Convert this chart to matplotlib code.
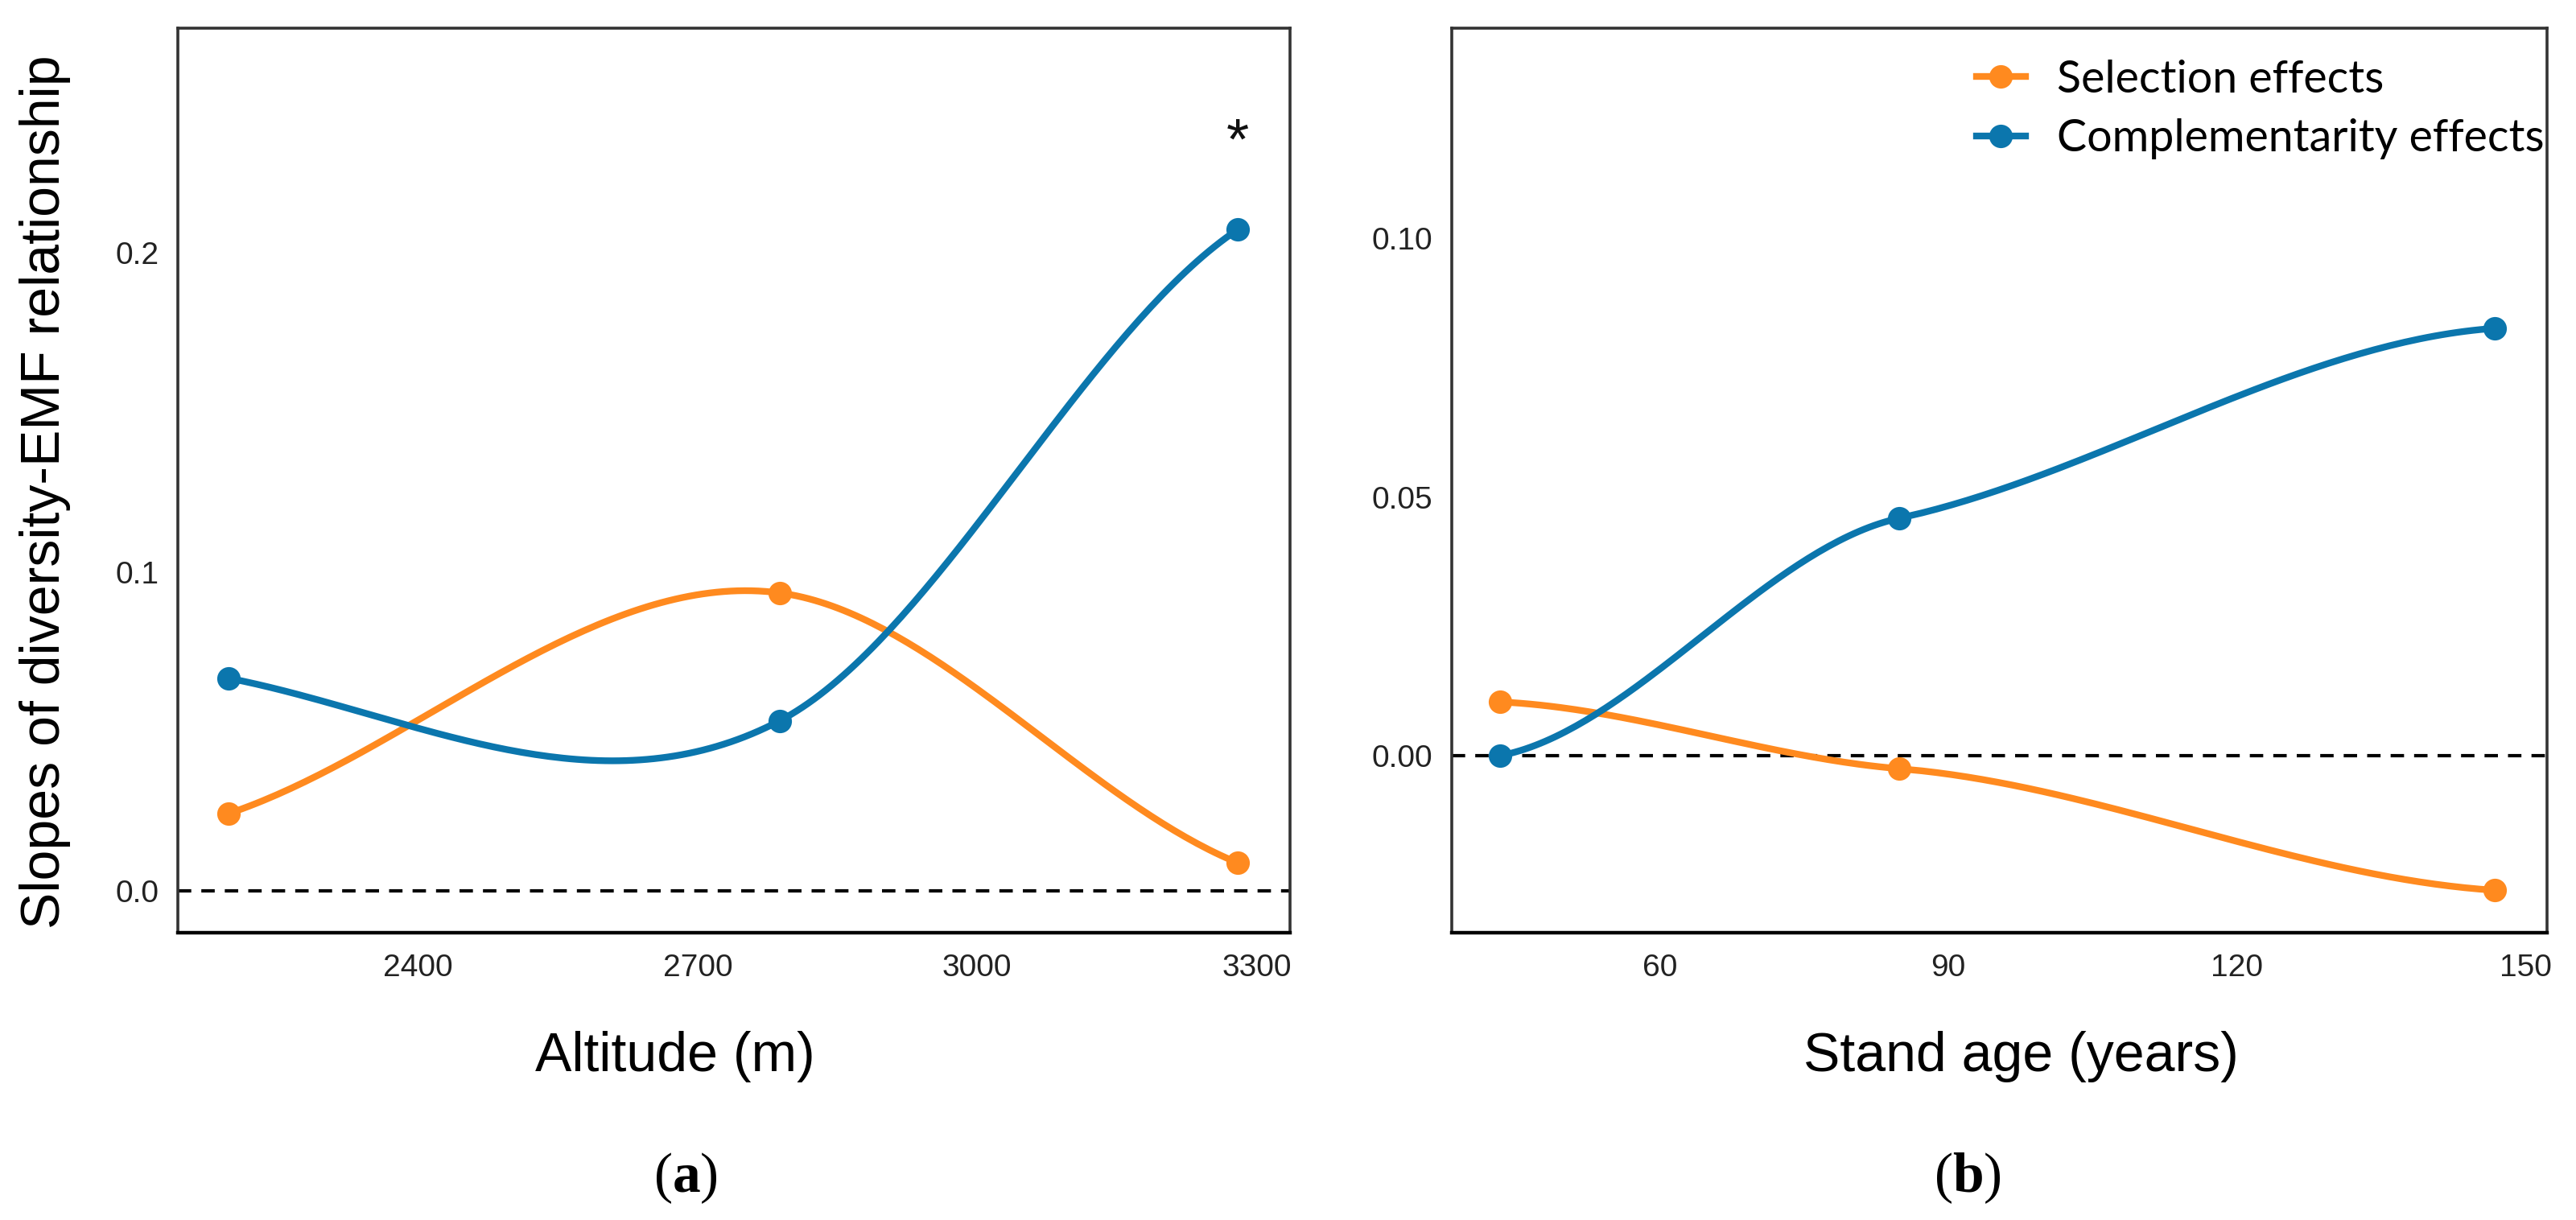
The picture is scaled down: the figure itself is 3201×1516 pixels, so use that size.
import matplotlib
matplotlib.use("Agg")
import matplotlib.pyplot as plt
import numpy as np
from matplotlib.lines import Line2D

# values
altitude = [2196, 2788, 3280]
sel_alt = [0.0242, 0.0934, 0.0088]
comp_alt = [0.0667, 0.0533, 0.2073]

stand_age = [43.4, 84.9, 146.8]
sel_age = [0.0104, -0.0025, -0.0260]
comp_age = [0.0000, 0.0459, 0.0826]

alt_ticks = [2400, 2700, 3000, 3300]
alt_yticks = [0.0, 0.1, 0.2]
age_ticks = [60, 90, 120, 150]
age_yticks = [0.00, 0.05, 0.10]

series_names = ["Selection effects", "Complementarity effects"]
ORANGE = "#FF8A1F"
BLUE = "#0B76AD"

plt.rcParams["font.family"] = ["Liberation Sans", "DejaVu Sans"]
plt.rcParams["mathtext.fontset"] = "custom"
plt.rcParams["mathtext.rm"] = "Liberation Serif"
plt.rcParams["mathtext.bf"] = "Liberation Serif:bold"


def smooth(x, y, k_int=1.0, k_end=0.5, steps=80):
    # hermite curve through the points, tangents from a natural spline, damped by k_*
    x = np.asarray(x, float)
    y = np.asarray(y, float)
    n = len(x)
    h = np.diff(x)
    d = np.diff(y) / h
    A = np.zeros((n, n))
    b = np.zeros(n)
    A[0, :2] = [2, 1]
    b[0] = 3 * d[0]
    for i in range(1, n - 1):
        A[i, i - 1:i + 2] = [h[i], 2 * (h[i - 1] + h[i]), h[i - 1]]
        b[i] = 3 * (h[i] * d[i - 1] + h[i - 1] * d[i])
    A[-1, -2:] = [1, 2]
    b[-1] = 3 * d[-1]
    m = np.linalg.solve(A, b)
    m[1:-1] *= k_int
    m[[0, -1]] *= k_end

    u = np.linspace(0, 1, steps)
    h00 = 2 * u**3 - 3 * u**2 + 1
    h10 = u**3 - 2 * u**2 + u
    h01 = -2 * u**3 + 3 * u**2
    h11 = u**3 - u**2
    xs, ys = [], []
    for i in range(n - 1):
        xs.append(x[i] + u * h[i])
        ys.append(h00 * y[i] + h10 * h[i] * m[i] + h01 * y[i + 1] + h11 * h[i] * m[i + 1])
    return np.concatenate(xs), np.concatenate(ys)


def draw_panel(ax, x, sel, comp, xlim, ylim, xticks, yticks, fmt, k_int, k_end):
    ax.axhline(0, color="black", lw=1.5, linestyle=(0, (4, 3)), zorder=1)
    for vals, col in [(sel, ORANGE), (comp, BLUE)]:
        cx, cy = smooth(x, vals, k_int, k_end)
        ax.plot(cx, cy, color=col, lw=3.0, solid_capstyle="round", zorder=2)
        ax.plot(x, vals, "o", color=col, ms=10.5, mec="none", zorder=3)
    ax.set_xlim(*xlim)
    ax.set_ylim(*ylim)
    ax.set_xticks(xticks)
    ax.set_yticks(yticks)
    ax.set_yticklabels([fmt.format(v) for v in yticks])
    ax.tick_params(length=0, labelsize=14, labelcolor="#222222")
    ax.tick_params(axis="x", pad=9.5)
    ax.tick_params(axis="y", pad=8.5)
    for side in ["left", "top", "right"]:
        ax.spines[side].set_color("#333333")
        ax.spines[side].set_linewidth(1.3)
    ax.spines["bottom"].set_color("black")
    ax.spines["bottom"].set_linewidth(1.6)


W, H = 3201, 1516
fig = plt.figure(figsize=(W / 200, H / 200), dpi=200)

ax1 = fig.add_axes([221 / W, 1 - 1159 / H, (1603 - 221) / W, (1159 - 35) / H])
ax2 = fig.add_axes([1804 / W, 1 - 1159 / H, (3165 - 1804) / W, (1159 - 35) / H])

draw_panel(ax1, altitude, sel_alt, comp_alt, (2142, 3336), (-0.0131, 0.2704),
           alt_ticks, alt_yticks, "{:.1f}", k_int=0.95, k_end=0.5)
draw_panel(ax2, stand_age, sel_age, comp_age, (38.4, 152.2), (-0.0342, 0.1406),
           age_ticks, age_yticks, "{:.2f}", k_int=0.45, k_end=0.3)

ax1.text(altitude[-1], 0.234, "*", ha="center", va="center", fontsize=26, color="#111111")

handles = [Line2D([], [], color=ORANGE, lw=3.0, marker="o", ms=10.5, mec="none"),
           Line2D([], [], color=BLUE, lw=3.0, marker="o", ms=10.5, mec="none")]
fig.legend(handles, series_names, loc="upper left", bbox_to_anchor=(2428 / W, 1 - 46 / H),
           frameon=False, prop={"family": "Lato", "size": 20}, handlelength=1.1,
           handletextpad=0.7, labelspacing=0.4, borderpad=0)

fig.text(56 / W, 1 - 611 / H, "Slopes of diversity-EMF relationship", rotation=90,
         ha="center", va="center", fontsize=24.5)
fig.text(839 / W, 1 - 1331 / H, "Altitude (m)", ha="center", va="baseline", fontsize=24.5)
fig.text(2511 / W, 1 - 1331 / H, "Stand age (years)", ha="center", va="baseline", fontsize=24.5)
fig.text(852 / W, 1 - 1481 / H, r"$\mathrm{(}\mathbf{a}\mathrm{)}$", ha="center", va="baseline", fontsize=25)
fig.text(2445 / W, 1 - 1481 / H, r"$\mathrm{(}\mathbf{b}\mathrm{)}$", ha="center", va="baseline", fontsize=25)

fig.savefig("out.png", dpi=200)
plt.close(fig)
